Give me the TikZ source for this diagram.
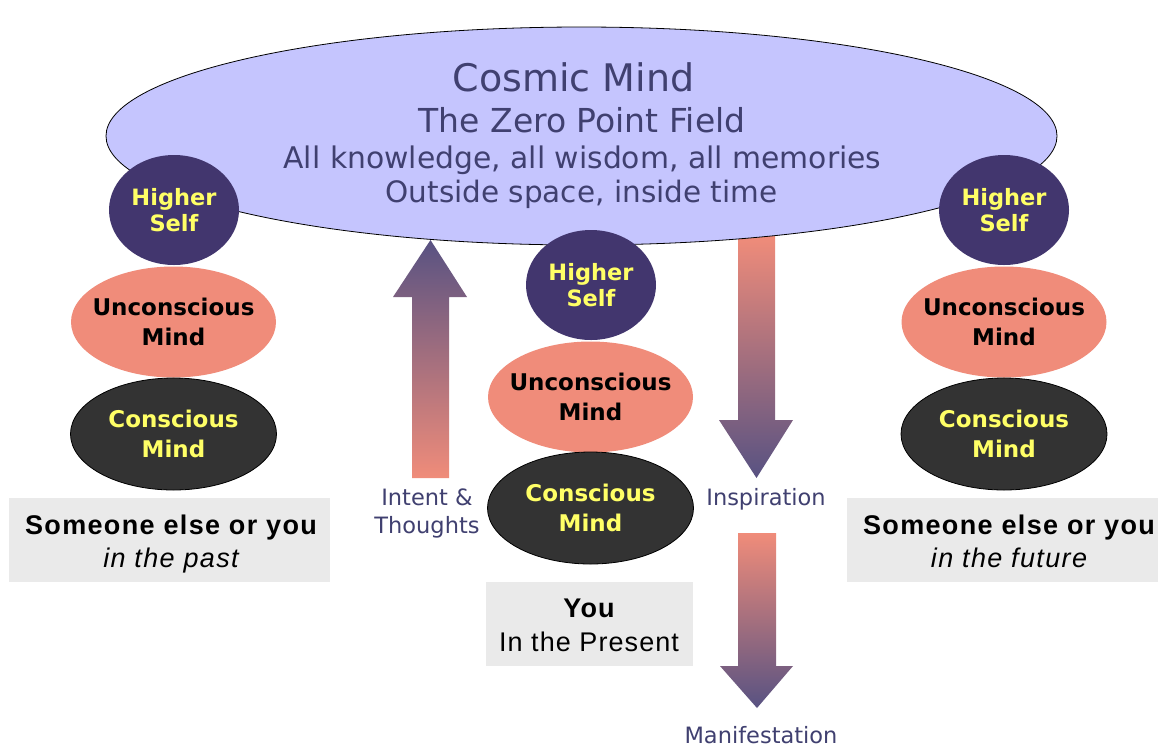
\documentclass[tikz,border=0pt]{standalone}
\usepackage{fontspec}
\setmainfont{DejaVu Sans}
\newfontfamily\arialls[LetterSpace=5]{Liberation Sans}
\newfontfamily\arialm[LetterSpace=4]{Liberation Sans}
\usetikzlibrary{shapes.geometric}
\definecolor{lav}{RGB}{197,197,254}
\definecolor{txtblue}{RGB}{64,64,112}
\definecolor{hsfill}{RGB}{66,54,110}
\definecolor{ylw}{RGB}{255,255,102}
\definecolor{salmon}{RGB}{240,140,122}
\definecolor{cons}{RGB}{51,51,51}
\definecolor{boxgray}{RGB}{234,234,234}
\definecolor{arrdark}{RGB}{88,82,130}
\begin{document}
\begin{tikzpicture}[x=1pt,y=-1pt,
  hself/.style={ellipse, fill=hsfill, minimum width=130pt, minimum height=110pt, inner sep=0pt},
  hstext/.style={text=ylw, align=center, inner sep=0pt, font=\fontsize{22.5}{26}\selectfont\bfseries},
  uncon/.style={ellipse, fill=salmon, minimum width=205pt, minimum height=111pt, inner sep=0pt},
  consc/.style={ellipse, fill=cons, draw=black, line width=0.8pt, minimum width=206pt, minimum height=112pt, inner sep=0pt},
  mtext/.style={align=center, inner sep=0pt, font=\fontsize{23}{30}\selectfont\bfseries},
  gbox/.style={rectangle, fill=boxgray, inner sep=0pt, minimum height=84pt},
  btext/.style={align=center, inner sep=0pt, text=black},
  lbl/.style={text=txtblue, align=center, inner sep=0pt, font=\fontsize{22.5}{28}\selectfont},
  cmtext/.style={text=txtblue, anchor=base, inner sep=0pt},
  upshade/.style={top color=arrdark, bottom color=salmon},
  downshade/.style={top color=salmon, bottom color=arrdark}
]
\useasboundingbox (0,0) rectangle (1158,748);
\fill[white] (0,0) rectangle (1158,748);

% arrow under the cosmic ellipse
\shade[downshade] (738,236) -- (775,236) -- (775,420) -- (793,420) -- (756.5,478) -- (719,420) -- (738,420) -- cycle;

% cosmic mind
\node[ellipse, draw=black, line width=0.8pt, fill=lav, minimum width=951pt, minimum height=218pt, inner sep=0pt] (cosmic) at (581.5,136) {};
\node[cmtext, font=\fontsize{38}{44}\selectfont] (c1) at (573.5,91) {Cosmic Mind};
\node[cmtext, font=\fontsize{33}{40}\selectfont] (c2) at (582,132) {The Zero Point Field};
\node[cmtext, font=\fontsize{29.8}{36}\selectfont] (c3) at (582.5,168) {All knowledge, all wisdom, all memories};
\node[cmtext, font=\fontsize{29.5}{36}\selectfont] (c4) at (581.5,202) {Outside space, inside time};

% up arrow
\shade[upshade] (412,478) -- (412,297) -- (393,297) -- (430.5,240) -- (467,297) -- (449,297) -- (449,478) -- cycle;
% manifestation arrow
\shade[downshade] (738,533) -- (776,533) -- (776,666) -- (793,666) -- (757,708) -- (720,666) -- (738,666) -- cycle;

% left stack
\node[hself] (hsL) at (174,210) {};
\node[hstext] (hsLt) at (hsL.center) {Higher\\Self};
\node[uncon] (unL) at (173.5,322) {};
\node[mtext, text=black] (unLt) at (unL.center) {Unconscious\\Mind};
\node[consc] (coL) at (173.5,434) {};
\node[mtext, text=ylw] (coLt) at (coL.center) {Conscious\\Mind};

% middle stack
\node[hself] (hsM) at (591,285) {};
\node[hstext] (hsMt) at (hsM.center) {Higher\\Self};
\node[uncon] (unM) at (590.5,397) {};
\node[mtext, text=black] (unMt) at (unM.center) {Unconscious\\Mind};
\node[consc] (coM) at (590.5,508) {};
\node[mtext, text=ylw] (coMt) at (coM.center) {Conscious\\Mind};

% right stack
\node[hself] (hsR) at (1004,210) {};
\node[hstext] (hsRt) at (hsR.center) {Higher\\Self};
\node[uncon] (unR) at (1004,322) {};
\node[mtext, text=black] (unRt) at (unR.center) {Unconscious\\Mind};
\node[consc] (coR) at (1004,434) {};
\node[mtext, text=ylw] (coRt) at (coR.center) {Conscious\\Mind};

% boxes
\node[gbox, minimum width=321pt] (bxL) at (169.5,540) {};
\node[btext, font=\arialls\fontsize{27}{33}\selectfont] (bxLt) at (171,544.4) {\bfseries Someone else or you\\\itshape in the past};
\node[gbox, minimum width=322pt] (bxR) at (1008,540) {};
\node[btext, font=\arialls\fontsize{27}{33}\selectfont] (bxRt) at (1009,541.5) {\bfseries Someone else or you\\\itshape in the future};
\node[gbox, minimum width=207pt] (bxM) at (589.5,624) {};
\node[btext, font=\arialm\fontsize{27}{34}\selectfont] (bxMt) at (589,625) {\bfseries You\\In the Present};

% arrow labels
\node[lbl] (intent) at (427,513) {Intent \&\\Thoughts};
\node[lbl, anchor=base] (insp) at (766,505) {Inspiration};
\node[lbl, anchor=base] (manif) at (761,743) {Manifestation};
\end{tikzpicture}
\end{document}
